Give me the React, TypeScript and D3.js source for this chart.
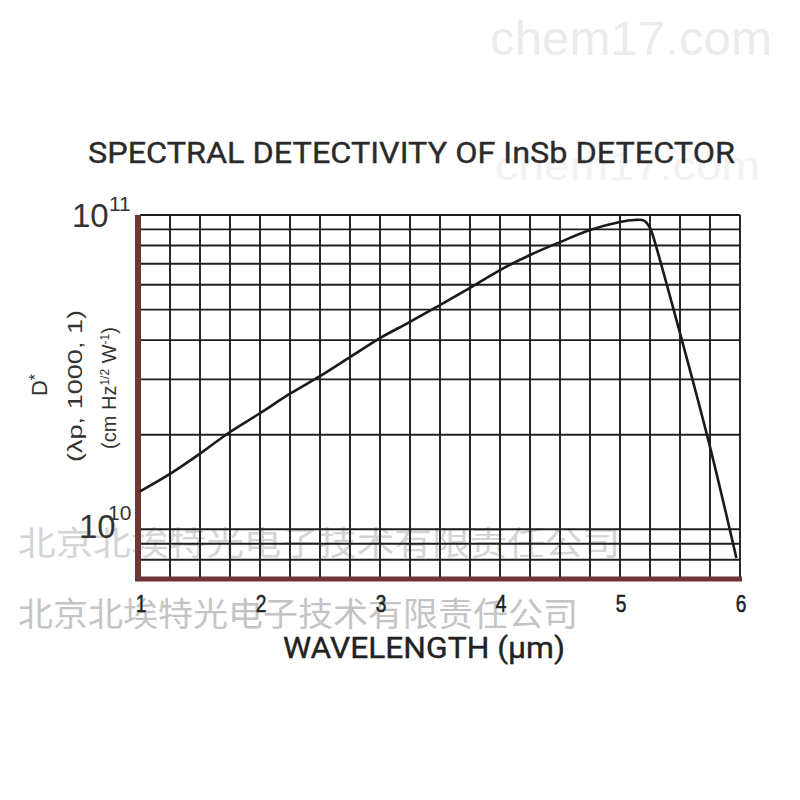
import React from "react";
import * as d3 from "d3";

const wavelengths = [1.0, 1.25, 1.5, 1.75, 2.0, 2.25, 2.5, 2.75, 3.0, 3.25, 3.5, 3.75, 4.0, 4.25, 4.5, 4.75, 5.0, 5.12, 5.2, 5.25, 5.27, 5.5, 5.75, 5.97];
const detectivity = [1.32e10, 1.5e10, 1.74e10, 2.04e10, 2.34e10, 2.7e10, 3.07e10, 3.53e10, 4.06e10, 4.57e10, 5.17e10, 5.86e10, 6.68e10, 7.46e10, 8.2e10, 8.96e10, 9.5e10, 9.64e10, 9.6e10, 9.1e10, 8.7e10, 4.21e10, 1.83e10, 8.1e9];

const xTicks = [1, 2, 3, 4, 5, 6];
const xGrid = d3.range(1, 6.001, 0.25);
const yGrid = [8e9, 9e9, 1e10, 2e10, 3e10, 4e10, 5e10, 6e10, 7e10, 8e10, 9e10, 1e11];

const title = "SPECTRAL DETECTIVITY OF InSb DETECTOR";
const xTitle = "WAVELENGTH (\u00b5m)";
const watermark = "北京北埃特光电子技术有限责任公司";

export default function App() {
  const x = d3.scaleLinear().domain([1, 6]).range([140, 740]);
  const y = d3.scaleLog().domain([7e9, 1e11]).range([578, 215]);
  const pts = wavelengths.map((w, i) => [w, detectivity[i]] as [number, number]);
  const line = d3
    .line<[number, number]>()
    .x((d) => x(d[0]))
    .y((d) => y(d[1]))
    .curve(d3.curveCatmullRom.alpha(0.5));
  const maroon = "#6e3636";
  const font = "'Liberation Sans', Arial, sans-serif";
  return (
    <svg
      width={800}
      height={800}
      style={{ position: "absolute", left: 0, top: 0, background: "#fff" }}
    >
      <rect x={0} y={0} width={800} height={800} fill="#fff" />
      {/* watermarks */}
      <text x={490} y={55} fontFamily={font} fontSize={48} fill="#ebebeb" textLength={282} lengthAdjust="spacingAndGlyphs">chem17.com</text>
      <text x={495} y={180} fontFamily={font} fontSize={40} fill="#f3f3f3" textLength={265} lengthAdjust="spacingAndGlyphs">chem17.com</text>
      <text x={18} y={555} fontFamily="'Noto Sans CJK SC', sans-serif" fontSize={33} fill="#d4d4d4" textLength={602} lengthAdjust="spacingAndGlyphs">{watermark}</text>
      <text x={18} y={626} fontFamily="'Noto Sans CJK SC', sans-serif" fontSize={33} fill="#c4c4c4" textLength={560} lengthAdjust="spacingAndGlyphs">{watermark}</text>

      {/* title */}
      <text x={88} y={163} fontFamily="Roboto, sans-serif" fontWeight={400} fontSize={30} fill="#2a2a2a" stroke="#2a2a2a" strokeWidth={0.35} textLength={647} lengthAdjust="spacingAndGlyphs">{title}</text>

      {/* grid */}
      <g stroke="#1e1e1e" strokeWidth={1.9}>
        {xGrid.map((v, i) => (
          <line key={"vx" + i} x1={x(v)} x2={x(v)} y1={y(1e11)} y2={y(7e9)} />
        ))}
        {yGrid.map((v, i) => (
          <line key={"hy" + i} x1={x(1)} x2={x(6)} y1={y(v)} y2={y(v)} />
        ))}
      </g>
      {/* maroon left & bottom borders */}
      <line x1={x(1) - 2} x2={x(1) - 2} y1={y(1e11)} y2={y(7e9) + 3} stroke={maroon} strokeWidth={6} />
      <line x1={x(1) - 5} x2={x(6) + 2} y1={y(7e9) + 1} y2={y(7e9) + 1} stroke={maroon} strokeWidth={5} />

      {/* curve */}
      <path d={line(pts) || ""} fill="none" stroke="#1a1a1a" strokeWidth={2.6} strokeLinejoin="round" />

      {/* x tick labels */}
      {xTicks.map((t) => (
        <text key={"xt" + t} x={x(t) + 1} y={612} textAnchor="middle" fontFamily={font} fontSize={24} fill="#222" stroke="#222" strokeWidth={0.5} transform={`translate(${x(t) + 1},0) scale(0.8,1) translate(${-(x(t) + 1)},0)`}>
          {t}
        </text>
      ))}
      <text x={283} y={658} fontFamily="Roboto, sans-serif" fontSize={30} fill="#222" stroke="#222" strokeWidth={0.35} textLength={282} lengthAdjust="spacingAndGlyphs">{xTitle}</text>

      {/* y tick labels */}
      <text x={72} y={227} fontFamily={font} fontSize={33} fill="#333">10</text>
      <text x={109} y={211} fontFamily={font} fontSize={21} fill="#333">11</text>
      <text x={79} y={538} fontFamily={font} fontSize={33} fill="#333">10</text>
      <text x={108} y={520} fontFamily={font} fontSize={21} fill="#333">10</text>

      {/* y labels */}
      <text transform="translate(47,385) rotate(-90)" textAnchor="middle" fontFamily={font} fontSize={22} fill="#333">
        D<tspan dy={-6} fontSize={16}>*</tspan>
      </text>
      <text transform="translate(82,386) rotate(-90)" textAnchor="middle" fontFamily={font} fontSize={21} fill="#333" textLength={152} lengthAdjust="spacingAndGlyphs">
        (λp, 1000, 1)
      </text>
      <text transform="translate(116,388) rotate(-90)" textAnchor="middle" fontFamily={font} fontSize={20} fill="#333">
        (cm Hz<tspan dy={-7} fontSize={12}>1/2</tspan><tspan dy={7}> W</tspan><tspan dy={-7} fontSize={12}>-1</tspan><tspan dy={7}>)</tspan>
      </text>
    </svg>
  );
}
